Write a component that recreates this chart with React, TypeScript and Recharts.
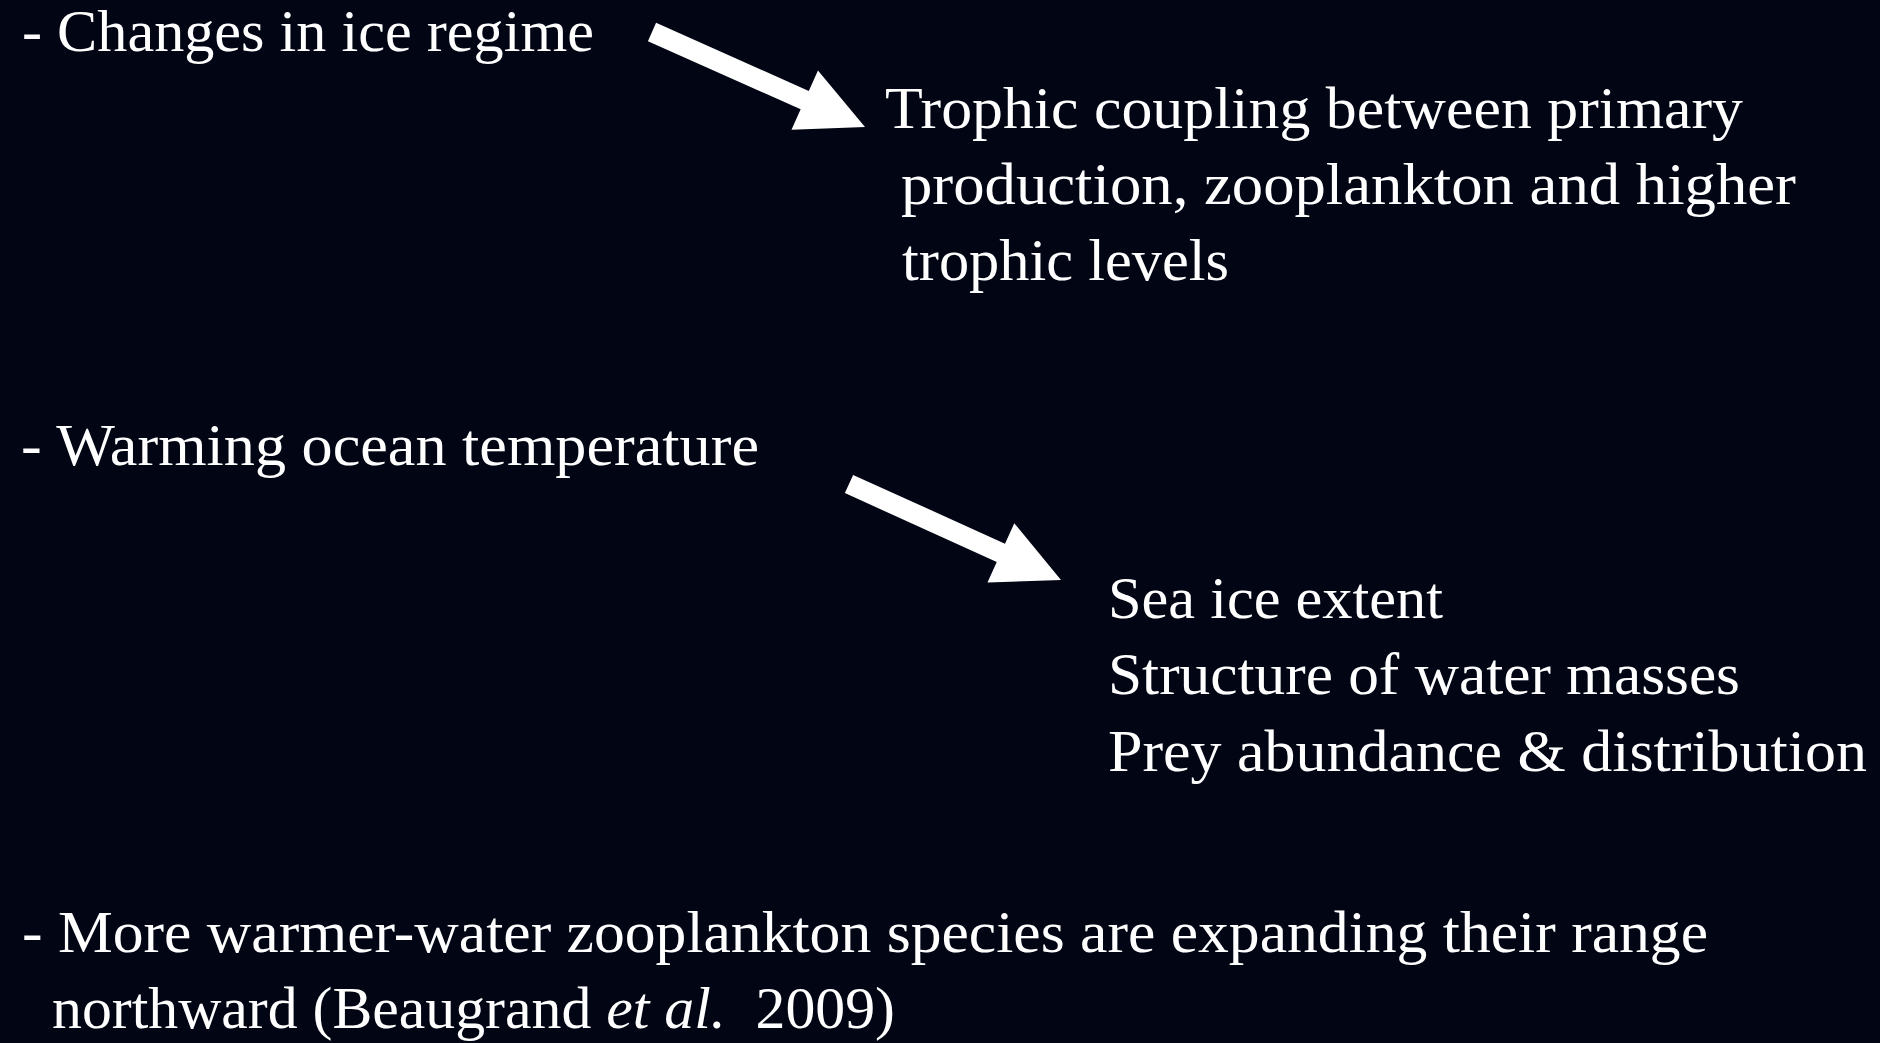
import { ComposedChart, XAxis, YAxis, ReferenceDot, ReferenceLine } from "recharts";

const W = 1880;
const H = 1043;
const BG = "#020614";
const FONT = "'Liberation Serif', 'Times New Roman', serif";

// slide text
const CAUSES = ["- Changes in ice regime", "- Warming ocean temperature"];
const COUPLING_LINES = [
  "Trophic coupling between primary",
  "production, zooplankton and higher",
  "trophic levels",
];
const EFFECT_LINES = [
  "Sea ice extent",
  "Structure of water masses",
  "Prey abundance & distribution",
];
const RANGE_LINE = "- More warmer-water zooplankton species are expanding their range";
const CITATION = [
  { text: "northward (Beaugrand ", italic: false },
  { text: "et al.", italic: true },
  { text: "  2009)", italic: false },
];

// arrows: tail centre -> tip, in slide pixels
const ARROW_TAILS = [
  { x: 652, y: 32 },
  { x: 849, y: 484 },
];
const ARROW_TIPS = [
  { x: 865, y: 127 },
  { x: 1061, y: 580 },
];

// layout: [x, baseline, width]
const CAUSE_POS = [
  [22, 51, 572],
  [21, 465, 738],
];
const COUPLING_POS = [
  [885, 128, 858],
  [901, 204, 895],
  [902, 280, 327],
];
const EFFECT_POS = [
  [1108, 618, 335],
  [1108, 694, 632],
  [1108, 771, 759],
];
const RANGE_POS = [22, 952, 1686];
const CITATION_POS = [52, 1028, 843];

const textProps = {
  fill: "#ffffff",
  fontFamily: FONT,
  fontSize: 60,
  lengthAdjust: "spacingAndGlyphs",
  style: { whiteSpace: "pre" as const },
};

function line(key: string, pos: number[], content: any) {
  return (
    <ReferenceDot
      key={key}
      x={pos[0]}
      y={pos[1]}
      r={1}
      ifOverflow="visible"
      shape={(p: any) => (
        <text x={p.cx} y={p.cy} textLength={pos[2]} {...textProps}>
          {content}
        </text>
      )}
    />
  );
}

const Arrow = (props: any) => {
  const { x1, y1, x2, y2 } = props;
  const dx = x2 - x1;
  const dy = y2 - y1;
  const len = Math.sqrt(dx * dx + dy * dy);
  const ux = dx / len;
  const uy = dy / len;
  const nx = -uy;
  const ny = ux;
  const shaft = 10;
  const head = 32.5;
  const headLen = 66;
  const bx = x2 - ux * headLen;
  const by = y2 - uy * headLen;
  const pts = [
    [x1 + nx * shaft, y1 + ny * shaft],
    [bx + nx * shaft, by + ny * shaft],
    [bx + nx * head, by + ny * head],
    [x2, y2],
    [bx - nx * head, by - ny * head],
    [bx - nx * shaft, by - ny * shaft],
    [x1 - nx * shaft, y1 - ny * shaft],
  ];
  return <polygon points={pts.map((p) => p.join(",")).join(" ")} fill="#ffffff" />;
};

export default function App() {
  return (
    <div style={{ position: "absolute", left: 0, top: 0, width: W, height: H, background: BG }}>
      <ComposedChart width={W} height={H} data={[]} margin={{ top: 0, right: 0, bottom: 0, left: 0 }}>
        <XAxis type="number" dataKey="x" domain={[0, W]} hide allowDataOverflow />
        <YAxis type="number" dataKey="y" domain={[0, H]} reversed hide allowDataOverflow />
        {ARROW_TAILS.map((t, i) => (
          <ReferenceLine
            key={"arrow" + i}
            segment={[t, ARROW_TIPS[i]]}
            ifOverflow="visible"
            shape={Arrow}
          />
        ))}
        {CAUSES.map((s, i) => line("cause" + i, CAUSE_POS[i], s))}
        {COUPLING_LINES.map((s, i) => line("coupling" + i, COUPLING_POS[i], s))}
        {EFFECT_LINES.map((s, i) => line("effect" + i, EFFECT_POS[i], s))}
        {line("range", RANGE_POS, RANGE_LINE)}
        {line(
          "citation",
          CITATION_POS,
          CITATION.map((c, i) => (
            <tspan key={i} fontStyle={c.italic ? "italic" : "normal"}>
              {c.text}
            </tspan>
          ))
        )}
      </ComposedChart>
    </div>
  );
}
